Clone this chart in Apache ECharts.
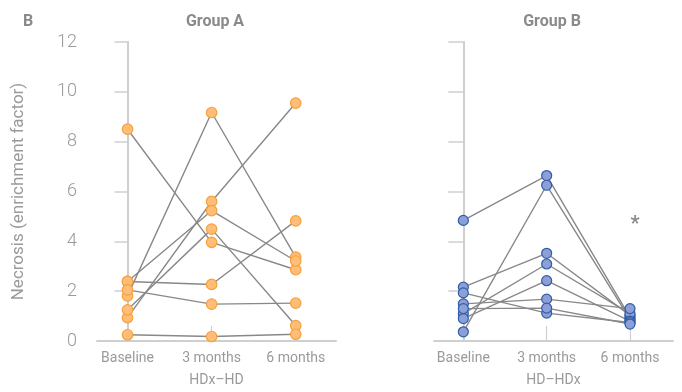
<!DOCTYPE html>
<html>
<head>
<meta charset="utf-8">
<script src="https://cdn.jsdelivr.net/npm/echarts@6/dist/echarts.min.js"></script>
<style>
html,body{margin:0;padding:0;background:#fff;}
#chart{width:682px;height:392px;}
</style>
</head>
<body>
<div id="chart"></div>
<script>
// ---- data ----
const categories = ['Baseline', '3 months', '6 months'];
const yTicks = [0, 2, 4, 6, 8, 10, 12];

// Group A (HDx–HD): one entry per patient
const groupABaseline = [8.5, 1.81, 0.94, 2.39, 1.25, 2.39, 2.05, 0.25];
const groupA3Months  = [3.96, 9.17, 5.6, 5.23, 4.49, 2.27, 1.48, 0.18];
const groupA6Months  = [2.86, 3.37, 9.55, 3.21, 0.62, 4.82, 1.52, 0.27];

// Group B (HD–HDx)
const groupBBaseline = [4.84, 0.37, 2.16, 1.10, 0.90, 1.49, 1.93, 1.30];
const groupB3Months  = [6.64, 6.25, 3.52, 3.09, 2.42, 1.68, 1.12, 1.32];
const groupB6Months  = [0.95, 0.87, 1.03, 1.10, 0.80, 1.30, 0.74, 0.68];

const panelTitles = ['Group A', 'Group B'];
const xNames = ['HDx\u2013HD', 'HD\u2013HDx'];
const yName = 'Necrosis (enrichment factor)';

// ---- build ----
const chart = echarts.init(document.getElementById('chart'));
const FONT = 'Roboto, "Open Sans", sans-serif';
const lineColor = '#888888';
const axisColor = '#cfcfcf';
const textColor = '#9a9a9a';

function patientPoints(b, m3, m6, i) {
  return [[0, b[i]], [1, m3[i]], [2, m6[i]]];
}

const series = [];
function addGroup(b, m3, m6, idx, fill, border, size) {
  const allPts = [];
  for (let i = 0; i < b.length; i++) {
    const pts = patientPoints(b, m3, m6, i);
    series.push({
      type: 'line', xAxisIndex: idx, yAxisIndex: idx,
      data: pts, symbol: 'none', silent: true, animation: false,
      lineStyle: { color: lineColor, width: 1.4 }, z: 2
    });
    pts.forEach(p => allPts.push(p));
  }
  series.push({
    type: 'scatter', xAxisIndex: idx, yAxisIndex: idx,
    data: allPts, symbol: 'circle', symbolSize: size, animation: false,
    itemStyle: { color: fill, borderColor: border, borderWidth: 1.2, opacity: 1 }, z: 3
  });
}
addGroup(groupABaseline, groupA3Months, groupA6Months, 0, '#ffbd78', '#f5a03c', 10.5);
addGroup(groupBBaseline, groupB3Months, groupB6Months, 1, '#8d9fd6', '#2c5ea8', 10);

function xAxis(idx, min, max) {
  return {
    gridIndex: idx, type: 'value', min: min, max: max,
    axisLine: { show: true, onZero: false, lineStyle: { color: axisColor, width: 2 } },
    axisTick: { show: true, inside: true, length: 15, customValues: [0, 1, 2],
      lineStyle: { color: axisColor, width: 1.2 } },
    axisLabel: { show: true, customValues: [0, 1, 2], margin: 10,
      formatter: v => categories[Math.round(v)], color: textColor,
      fontFamily: FONT, fontSize: 14 },
    splitLine: { show: false },
    name: xNames[idx], nameLocation: 'middle', nameGap: 32,
    nameTextStyle: { color: textColor, fontFamily: FONT, fontSize: 14 }
  };
}
function yAxis(idx, showLabels) {
  return {
    gridIndex: idx, type: 'value', min: yTicks[0], max: yTicks[yTicks.length - 1], interval: 2,
    axisLine: { show: true, lineStyle: { color: axisColor, width: 2 } },
    axisTick: { show: true, inside: false, length: idx === 0 ? 13 : 15,
      lineStyle: { color: axisColor, width: 1.5 } },
    axisLabel: { show: showLabels, margin: 20, color: textColor,
      fontFamily: FONT, fontSize: 18, fontWeight: 300 },
    splitLine: { show: false },
    name: showLabels ? yName : '', nameLocation: 'middle', nameGap: 70,
    nameTextStyle: { color: textColor, fontFamily: FONT, fontSize: 17 }
  };
}

chart.setOption({
  backgroundColor: '#ffffff',
  animation: false,
  title: [
    { text: 'B', left: 18, top: 9, textStyle: { color: '#8a8a8a', fontFamily: FONT, fontSize: 16, fontWeight: 'bold' } },
    { text: panelTitles[0], left: 210, top: 9, textAlign: 'center', textStyle: { color: '#8a8a8a', fontFamily: FONT, fontSize: 16, fontWeight: 'bold' } },
    { text: panelTitles[1], left: 547, top: 9, textAlign: 'center', textStyle: { color: '#8a8a8a', fontFamily: FONT, fontSize: 16, fontWeight: 'bold' } },
    { text: '*', left: 630, top: 210, textAlign: 'center', textStyle: { color: '#8a8a8a', fontFamily: FONT, fontSize: 20, fontWeight: 'bold' } }
  ],
  grid: [
    { left: 97, right: 346, top: 42, bottom: 48 },
    { left: 434, right: 9, top: 42, bottom: 48 }
  ],
  xAxis: [xAxis(0, -0.363, 2.479), xAxis(1, -0.352, 2.516)],
  yAxis: [yAxis(0, true), yAxis(1, false)],
  series: series
});
</script>
</body>
</html>
